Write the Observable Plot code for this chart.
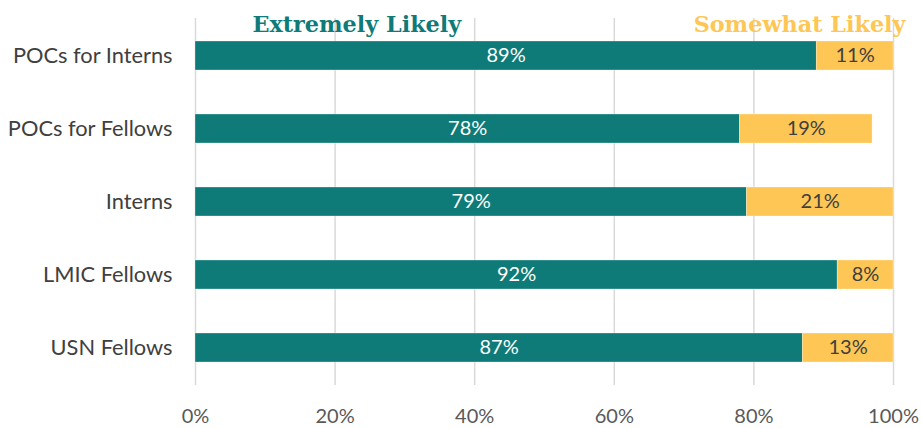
<!DOCTYPE html>
<html>
<head>
<meta charset="utf-8">
<script src="https://cdn.jsdelivr.net/npm/d3@7"></script>
<script src="https://cdn.jsdelivr.net/npm/@observablehq/plot@0.6"></script>
<style>
  html, body { margin: 0; padding: 0; background: #fff; }
  #chart { width: 922px; height: 428px; }
</style>
</head>
<body>
<div id="chart"></div>
<script>
const categories = ["POCs for Interns", "POCs for Fellows", "Interns", "LMIC Fellows", "USN Fellows"];
const seriesNames = ["Extremely Likely", "Somewhat Likely"];
const extremelyLikely = [89, 78, 79, 92, 87];
const somewhatLikely = [11, 19, 21, 8, 13];
const xTicks = [0, 20, 40, 60, 80, 100];
const colors = ["#0f7b78", "#fec654"];
const labelColors = ["#ffffff", "#404040"];

const rows = [];
categories.forEach((c, i) => {
  rows.push({cat: c, series: seriesNames[0], value: extremelyLikely[i]});
  rows.push({cat: c, series: seriesNames[1], value: somewhatLikely[i]});
});

const font = "Lato, 'Open Sans', sans-serif";

const chart = Plot.plot({
  width: 922,
  height: 428,
  marginLeft: 195,
  marginRight: 29,
  marginTop: 18,
  marginBottom: 43,
  style: {fontFamily: font, fontSize: "20px", background: "#fff"},
  x: {domain: [0, 100], ticks: xTicks, tickFormat: d => d + "%", label: null},
  y: {domain: categories, label: null, padding: 0.6, paddingOuter: 0.3},
  color: {domain: seriesNames, range: colors},
  marks: [
    Plot.ruleX(xTicks, {stroke: "#d9d9d9", strokeWidth: 1.5}),
    Plot.barX(rows, {y: "cat", x: "value", fill: "series", order: seriesNames, stroke: "#ffffff", strokeWidth: 0.5, strokeOpacity: 0.6}),
    Plot.text(rows, Plot.stackX({
      y: "cat", x: "value", order: seriesNames,
      text: d => d.value + "%",
      fill: d => labelColors[seriesNames.indexOf(d.series)],
      fontSize: 20
    })),
    Plot.axisX({ticks: xTicks, tickFormat: d => d + "%", tickSize: 0, tickPadding: 23, fill: "#595959", fontSize: 20, label: null}),
    Plot.axisY({tickSize: 0, tickPadding: 23, fill: "#404040", fontSize: 21.8, label: null}),
    Plot.text([seriesNames[0]], {
      text: d => d, frameAnchor: "top-left", textAnchor: "start", lineAnchor: "middle",
      dx: 57, dy: 6, fill: colors[0], fontFamily: "'DejaVu Serif', serif", fontWeight: "bold", fontSize: 22.3
    }),
    Plot.text([seriesNames[1]], {
      text: d => d, frameAnchor: "top-right", textAnchor: "end", lineAnchor: "middle",
      dx: 12, dy: 6, fill: colors[1], fontFamily: "'DejaVu Serif', serif", fontWeight: "bold", fontSize: 22.3
    })
  ]
});
document.getElementById("chart").appendChild(chart);
</script>
</body>
</html>
